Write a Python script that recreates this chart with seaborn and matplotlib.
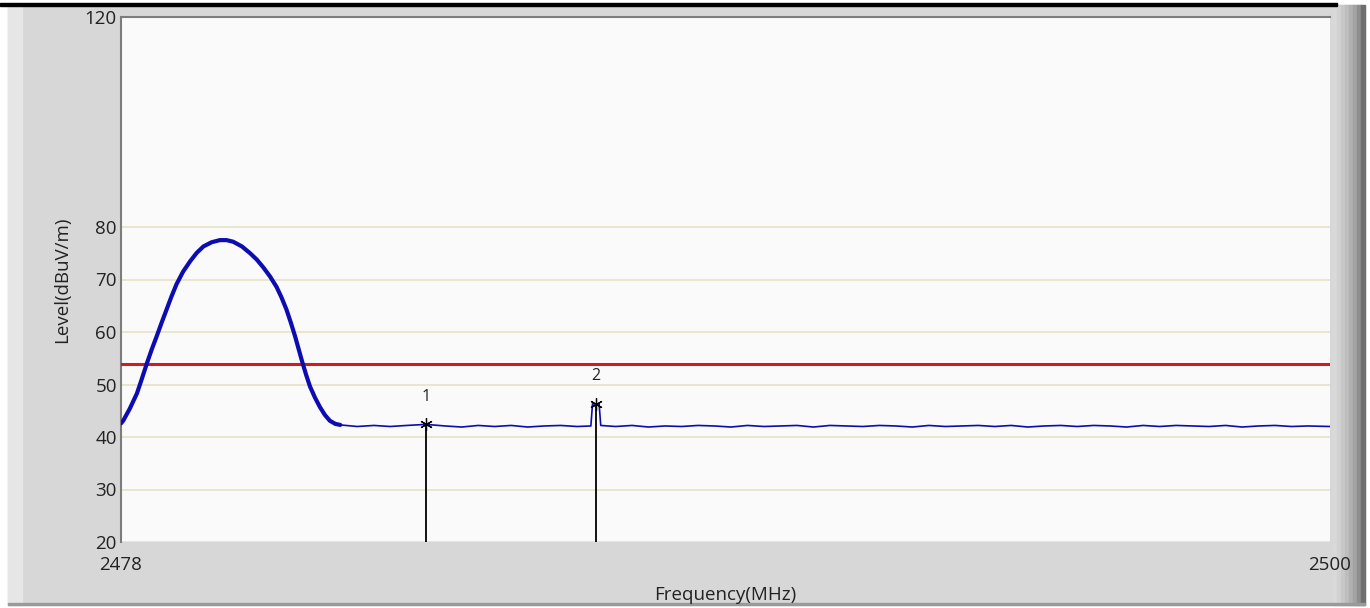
import matplotlib
matplotlib.use("Agg")
import numpy as np
import pandas as pd
import seaborn as sns
import matplotlib.pyplot as plt
from matplotlib.patches import Rectangle

# sweep trace
hump_freq = [2478.0, 2478.04, 2478.16, 2478.29, 2478.38, 2478.47, 2478.56, 2478.65,
             2478.74, 2478.83, 2478.92, 2479.01, 2479.13, 2479.26, 2479.38, 2479.5,
             2479.65, 2479.8, 2479.92, 2480.04, 2480.2, 2480.35, 2480.47, 2480.59,
             2480.71, 2480.83, 2480.92, 2481.01, 2481.09, 2481.17, 2481.29, 2481.37,
             2481.44, 2481.53, 2481.62, 2481.71, 2481.8, 2481.9, 2481.99]
hump_level = [42.6, 43.1, 45.4, 48.3, 51.1, 54.0, 56.7, 59.2,
              61.8, 64.3, 66.8, 69.1, 71.5, 73.5, 75.1, 76.3,
              77.1, 77.5, 77.5, 77.2, 76.3, 75.0, 73.8, 72.3,
              70.6, 68.6, 66.6, 64.3, 61.8, 59.1, 54.6, 51.8,
              49.6, 47.5, 45.7, 44.2, 43.1, 42.5, 42.3]

flat_freq = [2482.3, 2482.6, 2482.9, 2483.2, 2483.55, 2483.9, 2484.2, 2484.5,
             2484.8, 2485.1, 2485.4, 2485.7, 2486.0, 2486.3, 2486.55, 2486.58,
             2486.7, 2486.73, 2487.0, 2487.3, 2487.6, 2487.9, 2488.2, 2488.5,
             2488.8, 2489.1, 2489.4, 2489.7, 2490.0, 2490.3, 2490.6, 2490.9,
             2491.2, 2491.5, 2491.8, 2492.1, 2492.4, 2492.7, 2493.0, 2493.3,
             2493.6, 2493.9, 2494.2, 2494.5, 2494.8, 2495.1, 2495.4, 2495.7,
             2496.0, 2496.3, 2496.6, 2496.9, 2497.2, 2497.5, 2497.8, 2498.1,
             2498.4, 2498.7, 2499.0, 2499.3, 2499.6, 2500.0]
flat_level = [42.0, 42.2, 42.0, 42.2, 42.4, 42.1, 41.9, 42.2,
              42.0, 42.2, 41.9, 42.1, 42.2, 42.0, 42.1, 46.3,
              46.3, 42.2, 42.0, 42.2, 41.9, 42.1, 42.0, 42.2,
              42.1, 41.9, 42.2, 42.0, 42.1, 42.2, 41.9, 42.2,
              42.1, 42.0, 42.2, 42.1, 41.9, 42.2, 42.0, 42.1,
              42.2, 42.0, 42.2, 41.9, 42.1, 42.2, 42.0, 42.2,
              42.1, 41.9, 42.2, 42.0, 42.2, 42.1, 42.0, 42.2,
              41.9, 42.1, 42.2, 42.0, 42.1, 42.0]

limit_level = 54.0

marker_ids = ["1", "2"]
marker_freq = [2483.55, 2486.64]
marker_level = [42.4, 46.3]

y_ticks = [20, 30, 40, 50, 60, 70, 80, 120]
x_ticks = [2478, 2500]

sns.set_style("white")
plt.rcParams["font.family"] = ["Open Sans", "DejaVu Sans"]

fig = plt.figure(figsize=(13.7, 6.08), dpi=100, facecolor="white")


def frame_rect(x, y, w, h, color):
    # rectangle in pixel units of the 1370x608 canvas, y measured from the top
    fig.patches.append(Rectangle((x / 1370, 1 - (y + h) / 608), w / 1370, h / 608,
                                 transform=fig.transFigure, color=color, zorder=-5))


# window frame
frame_rect(8, 5, 1357, 600, "#d7d7d7")
frame_rect(8, 5, 14, 600, "#e6e6e6")
shades = ["#d9d9d9", "#d2d2d2", "#c8c8c8", "#bdbdbd", "#b0b0b0", "#a3a3a3", "#8e8e8e", "#6e6e6e"]
for i, c in enumerate(shades):
    frame_rect(1333 + i * 4, 5, 4, 600, c)
frame_rect(0, 3, 1337, 2.5, "black")
frame_rect(8, 603, 1357, 2, "#9a9a9a")

ax = fig.add_axes([121 / 1370, 1 - 542 / 608, 1209 / 1370, 525 / 608])
ax.set_facecolor("#fafafa")

hump = pd.DataFrame({"freq": hump_freq, "level": hump_level})
flat = pd.DataFrame({"freq": [hump_freq[-1]] + flat_freq,
                     "level": [hump_level[-1]] + flat_level})

sns.lineplot(data=hump, x="freq", y="level", ax=ax, color="#0c0cb0",
             linewidth=3.0, sort=False, estimator=None, zorder=4,
             solid_joinstyle="round", solid_capstyle="round")
sns.lineplot(data=flat, x="freq", y="level", ax=ax, color="#0c0cb0",
             linewidth=1.2, sort=False, estimator=None, zorder=4)

ax.axhline(limit_level, color="#c82020", linewidth=2.2, zorder=3)

for mid, mf, ml in zip(marker_ids, marker_freq, marker_level):
    ax.vlines(mf, 20, ml, color="black", linewidth=1.3, zorder=5)
    ax.plot(mf, ml, marker=(6, 2, 0), markersize=9, color="black",
            markeredgewidth=0.9, zorder=6)
    ax.annotate(mid, (mf, ml), xytext=(0, 20), textcoords="offset points",
                ha="center", va="center", fontsize=11.5, color="#222222")

ax.set_xlim(2478, 2500)
ax.set_ylim(20, 120)
ax.set_xticks(x_ticks)
ax.set_yticks(y_ticks)
ax.grid(axis="y", color="#e6e2c6", linewidth=1.2)
ax.grid(axis="x", visible=False)
ax.set_axisbelow(True)

ax.tick_params(axis="both", length=0, labelsize=13.5, colors="#222222")
ax.tick_params(axis="x", pad=10)
ax.tick_params(axis="y", pad=3)

for side in ["bottom", "right"]:
    ax.spines[side].set_visible(False)
for side in ["left", "top"]:
    ax.spines[side].set_color("#7c7c7c")
    ax.spines[side].set_linewidth(1.5)

ax.set_xlabel("Frequency(MHz)", fontsize=13.5, color="#222222", labelpad=9)
ax.set_ylabel("Level(dBuV/m)", fontsize=13.5, color="#222222", labelpad=10)

fig.savefig("out.png", dpi=100, facecolor=fig.get_facecolor())
